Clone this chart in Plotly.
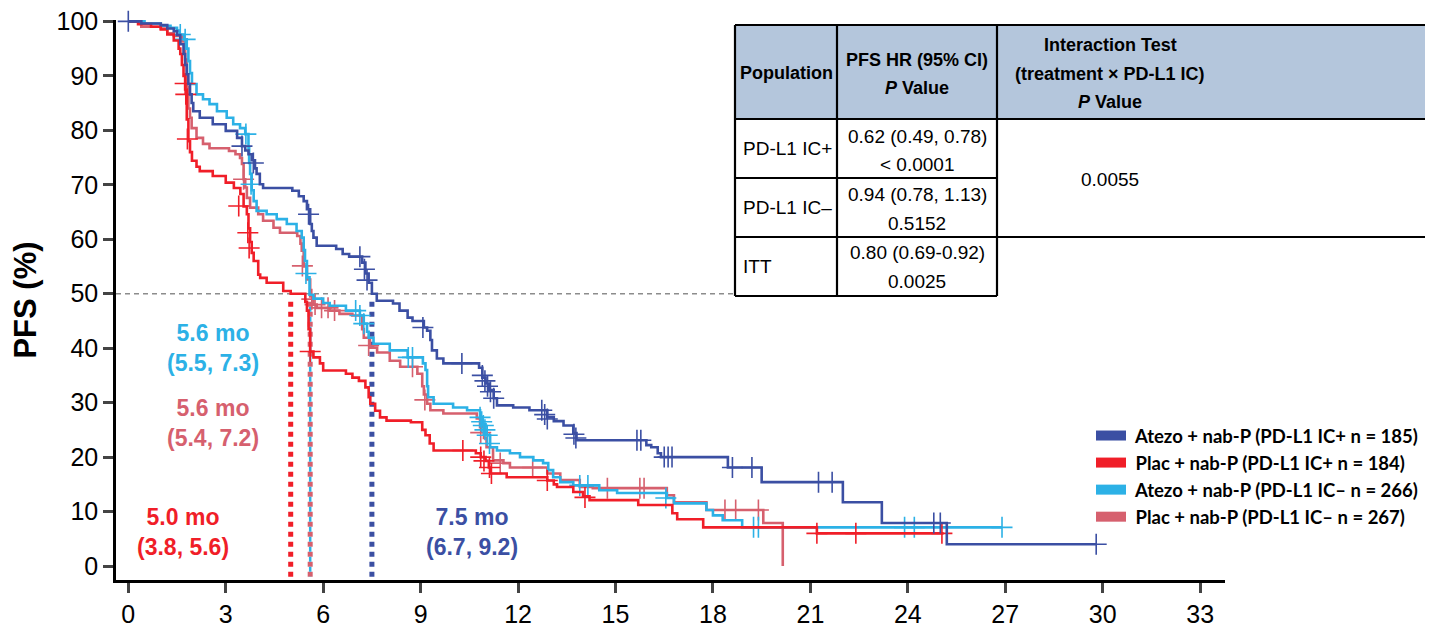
import plotly.graph_objects as go

# ---------------- data ----------------
series_names = [
    "Atezo + nab-P (PD-L1 IC+ n = 185)",
    "Plac + nab-P (PD-L1 IC+ n = 184)",
    "Atezo + nab-P (PD-L1 IC\u2013 n = 266)",
    "Plac + nab-P (PD-L1 IC\u2013 n = 267)",
]
series_colors = ["#3b4fa3", "#f01e28", "#2cb1e6", "#d6606e"]

# Atezo + nab-P, PD-L1 IC+
atezo_pos_t = [0, 0.4, 1.0, 1.2, 1.4, 1.5, 1.6, 1.7, 1.75, 1.8, 1.85, 1.9, 1.95, 2.0, 2.2, 2.6, 3.0,
               3.35, 3.5, 3.6, 3.7, 3.8, 3.9, 3.95, 4.05, 4.15, 5.05, 5.25, 5.4, 5.5, 5.6, 5.65, 5.7,
               5.8, 6.4, 6.6, 6.8, 7.2, 7.3, 7.4, 7.5, 7.65, 8.15, 8.35, 8.6, 8.75, 9.1, 9.2, 9.3,
               9.35, 9.5, 9.7, 10.8, 10.9, 11.0, 11.1, 11.25, 11.35, 11.85, 12.35, 12.9, 13.1, 13.4,
               13.7, 13.8, 15.95, 16.1, 16.3, 16.4, 18.46, 19.5, 22.0, 23.2, 25.2]
atezo_pos_s = [100, 99.6, 99.3, 98.7, 98.2, 97.5, 95.8, 94.0, 92.0, 90.3, 88.5, 86.6, 85.0, 83.5, 82.3,
               81.1, 79.9, 78.6, 77.1, 76.3, 75.6, 74.5, 73.0, 72.0, 70.1, 69.4, 68.9, 67.9, 67.0, 65.5,
               62.8, 61.5, 60.3, 58.8, 58.2, 57.3, 56.8, 55.7, 53.7, 52.0, 50.0, 48.7, 48.2, 46.9, 45.6,
               45.0, 43.8, 43.2, 41.5, 39.6, 38.1, 37.2, 36.4, 34.6, 33.5, 32.3, 30.8, 29.5, 29.1, 28.6,
               27.3, 26.6, 25.8, 24.4, 23.1, 22.2, 21.8, 20.7, 20.0, 18.1, 15.4, 11.7, 7.9, 4.0]
atezo_pos_end = 29.8
atezo_pos_cens_t = [0, 3.5, 3.85, 5.55, 7.13, 7.27, 7.35, 9.07, 10.27, 10.9, 10.98, 11.06, 11.15, 11.25,
                    12.73, 12.82, 12.9, 13.72, 13.78, 15.66, 15.78, 16.5, 16.62, 16.74, 18.6, 19.2,
                    21.25, 21.67, 24.8, 25.0, 29.8]
atezo_pos_cens_s = [100, 77.1, 74.0, 64.6, 56.8, 54.5, 52.5, 43.8, 37.2, 35.0, 34.0, 33.0, 32.0, 30.8,
                    28.6, 27.8, 27.0, 24.2, 23.5, 23.1, 23.1, 20.0, 20.0, 20.0, 18.1, 18.1,
                    15.4, 15.4, 7.9, 7.9, 4.0]

# Placebo + nab-P, PD-L1 IC+
plac_pos_t = [0, 0.3, 0.7, 1.0, 1.2, 1.4, 1.55, 1.6, 1.65, 1.7, 1.75, 1.8, 1.85, 1.9, 1.96, 2.1, 2.2,
              2.6, 3.0, 3.25, 3.45, 3.55, 3.65, 3.7, 3.75, 3.8, 3.86, 4.0, 4.06, 4.26, 4.77, 5.0, 5.45,
              5.5, 5.55, 5.6, 5.7, 5.9, 6.0, 6.7, 6.9, 7.1, 7.3, 7.4, 7.45, 7.6, 7.75, 7.95, 8.7, 9.05,
              9.15, 9.28, 9.4, 10.7, 10.85, 11.0, 11.1, 11.15, 11.65, 12.9, 13.1, 13.2, 13.7, 14.0, 14.2,
              15.7, 16.75, 16.9, 17.7, 21.2]
plac_pos_s = [100, 99.5, 99.0, 98.5, 97.6, 96.5, 95.0, 94.0, 92.0, 90.0, 87.5, 82.0, 78.0, 76.0, 74.4,
              73.3, 72.5, 71.6, 70.4, 69.4, 68.3, 66.0, 64.6, 62.0, 59.5, 57.5, 56.0, 53.5, 52.9, 52.0,
              50.5, 50.0, 48.5, 46.9, 43.5, 39.4, 38.3, 37.2, 35.9, 35.3, 34.6, 34.0, 32.8, 31.0, 29.8,
              28.5, 27.3, 26.7, 26.4, 25.0, 24.0, 22.5, 21.2, 20.7, 20.0, 19.3, 18.1, 17.0, 16.3, 15.7,
              15.0, 14.5, 13.6, 12.8, 12.1, 11.2, 9.7, 8.6, 7.1, 6.0]
plac_pos_end = 25.1
plac_pos_cens_t = [1.75, 1.77, 1.82, 3.4, 3.68, 3.72, 5.6, 10.3, 10.85, 10.95, 11.12, 11.18, 12.9,
                   14.06, 21.2, 22.4, 25.05]
plac_pos_cens_s = [88.6, 86.6, 78.4, 66.1, 61.2, 58.4, 39.4, 21.2, 20.0, 19.3, 18.1, 17.0, 15.7,
                   12.6, 6.0, 6.0, 6.0]

# Atezo + nab-P, PD-L1 IC-
atezo_neg_t = [0, 0.5, 1.0, 1.3, 1.5, 1.58, 1.72, 1.8, 1.85, 1.9, 1.96, 2.1, 2.3, 2.5, 2.73, 3.03, 3.23,
               3.44, 3.6, 3.7, 3.72, 3.75, 3.8, 3.86, 3.95, 4.26, 4.57, 4.88, 5.18, 5.34, 5.4, 5.44,
               5.5, 5.58, 5.7, 6.0, 6.2, 6.7, 7.13, 7.25, 7.35, 7.4, 7.55, 8.05, 8.6, 9.07, 9.15, 9.2,
               9.23, 9.4, 10.0, 10.43, 10.83, 10.9, 11.0, 11.14, 11.35, 11.75, 12.06, 12.47, 12.77,
               12.93, 13.08, 13.3, 13.7, 14.5, 15.05, 16.58, 16.8, 17.8, 18.0, 18.3, 18.9]
atezo_neg_s = [100, 99.6, 99.2, 98.8, 98.3, 97.6, 96.7, 95.0, 92.7, 90.5, 88.5, 86.6, 85.7, 84.8, 83.5,
               82.3, 81.1, 80.4, 79.3, 76.7, 74.0, 72.0, 69.0, 67.0, 65.2, 64.6, 63.7, 62.8, 61.5, 60.3,
               58.0, 56.0, 53.0, 49.8, 49.1, 48.3, 47.8, 46.9, 46.0, 44.5, 43.0, 41.9, 40.8, 39.6, 38.3,
               37.2, 36.0, 33.0, 31.0, 29.8, 29.1, 28.6, 27.3, 26.0, 24.0, 21.8, 21.2, 20.7, 20.0, 19.4,
               18.9, 17.6, 16.3, 15.4, 14.8, 13.9, 13.4, 12.5, 11.5, 10.3, 9.3, 8.4, 7.1]
atezo_neg_end = 26.9
atezo_neg_cens_t = [1.6, 1.75, 3.62, 3.78, 5.47, 7.0, 7.13, 7.25, 8.62, 8.75, 10.83, 10.88, 10.93,
                    10.98, 11.05, 11.12, 13.9, 14.15, 16.55, 19.25, 19.4, 23.9, 24.2, 26.9]
atezo_neg_cens_s = [97.6, 96.7, 79.3, 70.1, 53.7, 46.9, 46.0, 44.5, 38.3, 38.3, 27.3, 26.5, 25.8,
                    25.0, 24.0, 22.5, 14.8, 14.8, 12.5, 7.1, 7.1, 7.1, 7.1, 7.1]

# Placebo + nab-P, PD-L1 IC-
plac_neg_t = [0, 0.4, 1.0, 1.2, 1.4, 1.65, 1.75, 1.8, 1.85, 1.9, 1.95, 2.1, 2.3, 2.5, 3.1, 3.3, 3.44,
              3.5, 3.55, 3.6, 3.65, 3.75, 4.0, 4.15, 4.47, 4.67, 5.2, 5.3, 5.34, 5.4, 5.5, 5.6, 5.7,
              5.8, 6.2, 6.5, 6.9, 7.2, 7.25, 7.44, 7.66, 8.05, 8.37, 8.9, 9.05, 9.1, 9.2, 9.3, 9.7,
              10.73, 10.83, 10.95, 11.03, 11.23, 11.55, 11.75, 12.9, 13.3, 13.9, 14.3, 16.58, 16.8,
              17.8, 19.55, 20.15]
plac_neg_s = [100, 99.0, 98.7, 97.8, 97.3, 96.3, 93.0, 88.0, 84.0, 82.3, 80.4, 78.6, 77.5, 76.7, 76.2,
              75.6, 74.9, 73.8, 71.0, 69.5, 67.6, 65.8, 64.6, 63.4, 62.1, 61.2, 60.6, 59.2, 57.9, 55.0,
              52.6, 49.5, 48.0, 47.4, 46.9, 46.3, 46.0, 43.5, 41.9, 40.1, 39.2, 37.7, 36.6, 35.3, 33.0,
              31.5, 29.8, 28.6, 28.0, 27.1, 25.5, 23.5, 21.8, 19.4, 18.9, 18.1, 17.0, 15.8, 14.5, 14.3,
              13.0, 11.7, 10.3, 7.9, 0.0]
plac_neg_end = 20.15
plac_neg_cens_t = [3.55, 5.36, 5.65, 5.75, 5.95, 6.15, 6.35, 7.4, 8.75, 9.13, 10.85, 11.45, 12.45,
                   14.75, 15.75, 15.88, 18.37, 18.7, 19.4]
plac_neg_cens_s = [71.0, 55.1, 49.0, 48.0, 47.4, 47.4, 46.9, 40.5, 36.6, 30.5, 24.5, 18.9, 18.1,
                   14.3, 14.3, 14.3, 10.3, 10.3, 10.3]

# medians (months) and CI labels
median_values = [7.5, 5.0, 5.6, 5.6]
median_labels = ["7.5 mo<br>(6.7, 9.2)", "5.0 mo<br>(3.8, 5.6)",
                 "5.6 mo<br>(5.5, 7.3)", "5.6 mo<br>(5.4, 7.2)"]
median_label_pos = [(10.58, 6.2), (1.68, 6.2), (2.61, 40.1), (2.61, 26.2)]

x_ticks = list(range(0, 34, 3))
y_ticks = list(range(0, 101, 10))

table_header_pop = "Population"
table_header_hr = ["PFS HR (95% CI)", "<i>P</i> Value"]
table_header_int = ["Interaction Test", "(treatment \u00d7 PD-L1 IC)", "<i>P</i> Value"]
table_population = ["PD-L1 IC+", "PD-L1 IC\u2013", "ITT"]
table_hr = [["0.62 (0.49, 0.78)", "< 0.0001"], ["0.94 (0.78, 1.13)", "0.5152"],
            ["0.80 (0.69-0.92)", "0.0025"]]
table_interaction = "0.0055"

# ---------------- figure ----------------
# the page body has an 8px margin, so the figure is 8px smaller and everything shifted by 8px
OFF = 8
W, H = 1433 - OFF, 631 - OFF
ML, MR, MT, MB = 116 - OFF, 208, 20 - OFF, 51
PW, PH = W - ML - MR, H - MT - MB


def pxx(x):
    return (x - OFF - ML) / PW


def pxy(y):
    return (H + OFF - MB - y) / PH


fig = go.Figure()

curves = [
    (atezo_pos_t, atezo_pos_s, atezo_pos_end, atezo_pos_cens_t, atezo_pos_cens_s),
    (plac_pos_t, plac_pos_s, plac_pos_end, plac_pos_cens_t, plac_pos_cens_s),
    (atezo_neg_t, atezo_neg_s, atezo_neg_end, atezo_neg_cens_t, atezo_neg_cens_s),
    (plac_neg_t, plac_neg_s, plac_neg_end, plac_neg_cens_t, plac_neg_cens_s),
]

# median reference lines
med_line_width = [5, 5, 2.5, 5]
for i in [0, 1, 3, 2]:
    m = median_values[i]
    y_top = 48.5 if i != 2 else 47.6
    fig.add_trace(go.Scatter(
        x=[m, m], y=[y_top, -2.0], mode="lines",
        line=dict(color=series_colors[i], width=med_line_width[i], dash="5px,5px"),
        showlegend=False, hoverinfo="skip"))

# KM curves
for i in [3, 2, 1, 0]:
    t, s, end, ct, cs = curves[i]
    fig.add_trace(go.Scatter(
        x=list(t) + [end], y=list(s) + [s[-1]], mode="lines",
        line=dict(color=series_colors[i], width=2.6, shape="hv"),
        name=series_names[i], legendgroup=str(i), showlegend=False, cliponaxis=False))
    fig.add_trace(go.Scatter(
        x=ct, y=cs, mode="markers",
        marker=dict(symbol="cross-thin", size=15, line=dict(color=series_colors[i], width=1.6)),
        legendgroup=str(i), showlegend=False, cliponaxis=False))

# legend entries
for i in range(4):
    fig.add_trace(go.Scatter(
        x=[None], y=[None], mode="lines",
        line=dict(color=series_colors[i], width=10),
        name="\u00a0" + series_names[i], legendgroup=str(i), showlegend=True))

shapes = []
shapes.append(dict(type="line", xref="paper", yref="y", x0=0, x1=pxx(735), y0=50, y1=50,
                   line=dict(color="#8c8c8c", width=1.6, dash="5px,4px"), layer="below"))

# table
tx0, tx1, tx2, tx3 = 735, 837, 997, 1445
ty0, ty1, ty2, ty3, ty4 = 25, 119, 178, 237, 296
shapes.append(dict(type="rect", xref="paper", yref="paper", x0=pxx(tx0), x1=pxx(tx3),
                   y0=pxy(ty1), y1=pxy(ty0), fillcolor="#b4c6dc", line=dict(width=0)))
bw = 2.2
for (xa, xb, yy) in [(tx0, tx3, ty0), (tx0, tx3, ty1), (tx0, tx2, ty2), (tx0, tx3, ty3),
                     (tx0, tx2, ty4)]:
    shapes.append(dict(type="line", xref="paper", yref="paper", x0=pxx(xa), x1=pxx(xb),
                       y0=pxy(yy), y1=pxy(yy), line=dict(color="black", width=bw)))
for xx in [tx0, tx1, tx2]:
    shapes.append(dict(type="line", xref="paper", yref="paper", x0=pxx(xx), x1=pxx(xx),
                       y0=pxy(ty0), y1=pxy(ty4), line=dict(color="black", width=bw)))

annotations = []
tfont = "Liberation Sans, Arial"
hfont = dict(family=tfont, size=18, color="black", weight="bold")
bfont = dict(family=tfont, size=19, color="black")


def cell(x, y, text, font, anchor="center"):
    annotations.append(dict(xref="paper", yref="paper", x=pxx(x), y=pxy(y), text=text,
                            showarrow=False, xanchor=anchor, yanchor="middle", font=font))


cell(786, 73, table_header_pop, hfont)
for txt, yy in zip(table_header_hr, [60, 88]):
    cell(917, yy, txt, hfont)
for txt, yy in zip(table_header_int, [45, 74, 102]):
    cell(1110, yy, txt, hfont)
pop_y = [149, 207, 266]
hr_y = [(136, 164), (194, 223), (253, 281)]
for k in range(3):
    cell(741, pop_y[k], table_population[k], bfont, anchor="left")
    cell(917, hr_y[k][0], table_hr[k][0], bfont)
    cell(917, hr_y[k][1], table_hr[k][1], bfont)
cell(1110, 179, table_interaction, bfont)

# median labels
for i in range(4):
    annotations.append(dict(x=median_label_pos[i][0], y=median_label_pos[i][1], xref="x", yref="y",
                            text=median_labels[i], showarrow=False, xanchor="center",
                            yanchor="middle", align="center",
                            font=dict(family="Liberation Sans, Arial", size=23,
                                      color=series_colors[i], weight="bold")))

fig.update_layout(
    width=W, height=H,
    margin=dict(l=ML, r=MR, t=MT, b=MB, pad=0, autoexpand=False),
    paper_bgcolor="white", plot_bgcolor="white",
    showlegend=True,
    legend=dict(x=pxx(1091), y=pxy(417), xanchor="left", yanchor="top",
                font=dict(family="Lato, Open Sans", size=18.5, color="black", weight="bold"),
                bgcolor="rgba(0,0,0,0)", traceorder="normal", itemwidth=30),
    xaxis=dict(range=[(ML + OFF - 128.3) / 32.48, (ML + OFF + PW - 128.3) / 32.48],
               tickmode="array", tickvals=x_ticks, ticks="outside", ticklen=10, tickwidth=2.5,
               automargin=False, showline=True, linecolor="black", linewidth=2.5,
               showgrid=False, zeroline=False, ticklabeloverflow="allow",
               tickfont=dict(family="Liberation Sans, Arial", size=25, color="black")),
    yaxis=dict(range=[(566 - (H + OFF - MB)) / 5.46, 100.25], tickmode="array", tickvals=y_ticks,
               ticks="outside", ticklen=10, tickwidth=2.5, showline=True, linecolor="black",
               linewidth=2.5, showgrid=False, zeroline=False, automargin=False,
               ticklabeloverflow="allow",
               tickfont=dict(family="Liberation Sans, Arial", size=25, color="black"),
               title=dict(text="PFS (%)", standoff=21,
                          font=dict(family="Liberation Sans, Arial", size=31, color="black",
                                    weight="bold"))),
    shapes=shapes,
    annotations=annotations,
)

fig.write_html("out.html")
